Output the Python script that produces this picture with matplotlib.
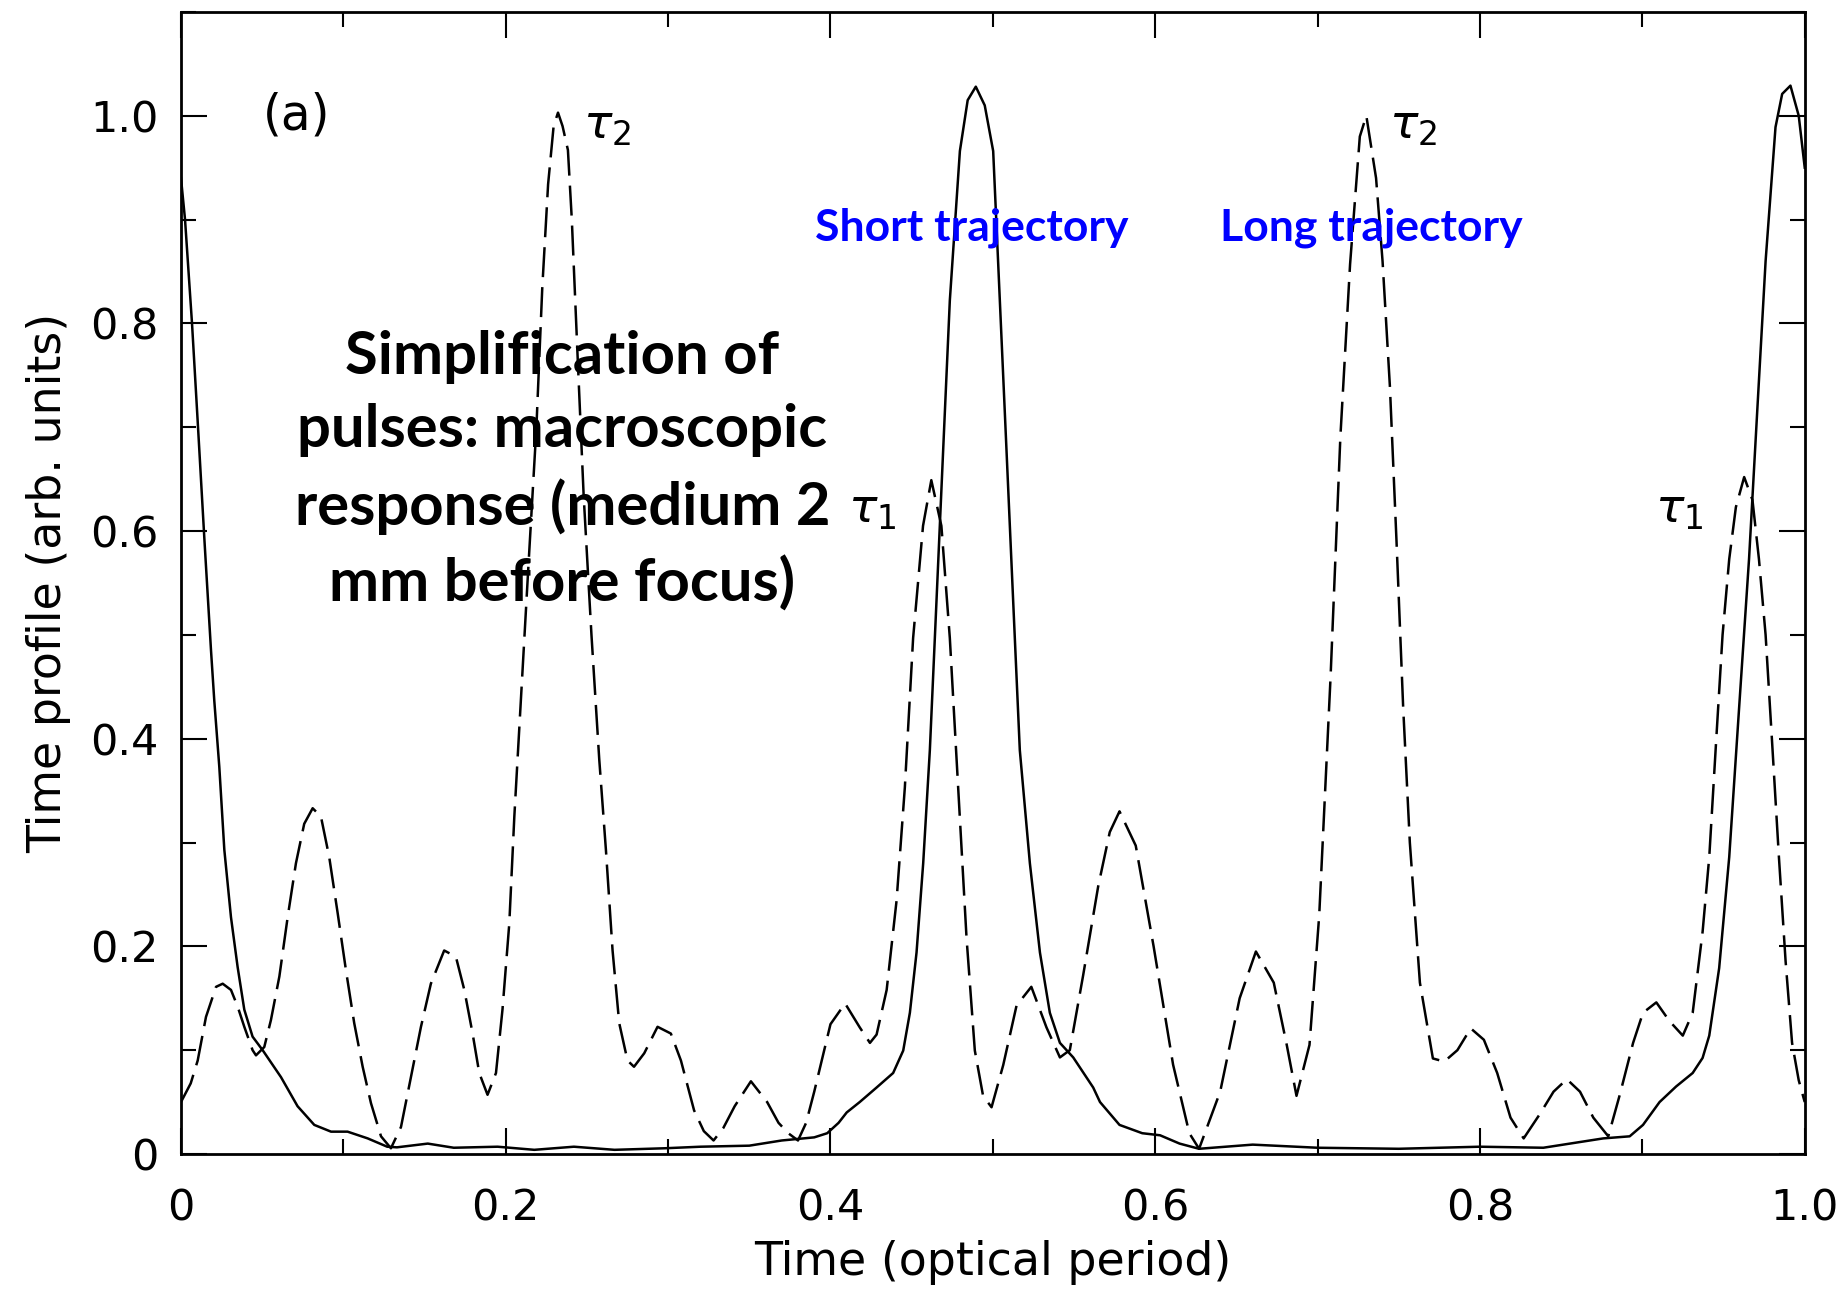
import numpy as np
import matplotlib
matplotlib.use("Agg")
import matplotlib.pyplot as plt
from matplotlib.ticker import MultipleLocator

# Solid curve
time_solid = [0.0, 0.0025, 0.0068, 0.0105, 0.0145, 0.0185, 0.0205, 0.0236, 0.0267, 0.0308,
              0.0349, 0.039, 0.0441, 0.0503, 0.0616, 0.0718, 0.0821, 0.0924, 0.1026, 0.115,
              0.127, 0.133, 0.152, 0.168, 0.195, 0.2176, 0.242, 0.267, 0.298, 0.32,
              0.35, 0.37, 0.39, 0.398, 0.405, 0.41, 0.418, 0.4284, 0.4386, 0.4448,
              0.4489, 0.453, 0.4571, 0.4612, 0.4653, 0.4694, 0.4735, 0.4797, 0.4845, 0.4895,
              0.495, 0.5002, 0.5043, 0.5084, 0.5125, 0.5166, 0.5228, 0.529, 0.5351, 0.5413,
              0.5495, 0.5618, 0.566, 0.578, 0.592, 0.603, 0.615, 0.627, 0.66, 0.70,
              0.75, 0.80, 0.839, 0.8759, 0.8922, 0.9004, 0.9106, 0.9208, 0.931, 0.9371,
              0.9412, 0.9473, 0.9535, 0.9596, 0.9657, 0.9708, 0.9759, 0.982, 0.9861, 0.9912,
              0.9963, 1.0]
profile_solid = [0.94, 0.90, 0.80, 0.70, 0.59, 0.485, 0.437, 0.373, 0.293, 0.228,
                 0.18, 0.139, 0.113, 0.10, 0.074, 0.046, 0.028, 0.0215, 0.0215, 0.015,
                 0.007, 0.0064, 0.010, 0.006, 0.007, 0.004, 0.007, 0.004, 0.0055, 0.007,
                 0.008, 0.013, 0.016, 0.02, 0.03, 0.04, 0.05, 0.064, 0.078, 0.0996,
                 0.136, 0.194, 0.28, 0.389, 0.533, 0.678, 0.822, 0.966, 1.015, 1.028,
                 1.01, 0.966, 0.822, 0.678, 0.533, 0.389, 0.28, 0.194, 0.136, 0.107,
                 0.093, 0.064, 0.05, 0.028, 0.02, 0.018, 0.01, 0.005, 0.009, 0.006,
                 0.005, 0.007, 0.006, 0.015, 0.017, 0.028, 0.05, 0.065, 0.078, 0.0925,
                 0.114, 0.179, 0.286, 0.43, 0.573, 0.717, 0.86, 0.989, 1.021, 1.029,
                 1.0, 0.95]

# Dashed curve
time_dashed = [0.0, 0.006, 0.0103, 0.0154, 0.0216, 0.0257, 0.0308, 0.0349, 0.039, 0.0441,
               0.0462, 0.0513, 0.0554, 0.0606, 0.0657, 0.0708, 0.0759, 0.0811, 0.0862, 0.0913,
               0.0965, 0.1016, 0.1067, 0.1119, 0.117, 0.1232, 0.1293, 0.1355, 0.1416, 0.1478,
               0.1539, 0.1621, 0.1693, 0.1745, 0.1796, 0.1837, 0.1888, 0.194, 0.198, 0.2022,
               0.2053, 0.2092, 0.214, 0.2189, 0.2225, 0.2261, 0.2295, 0.2322, 0.235, 0.2383,
               0.2407, 0.2443, 0.248, 0.2528, 0.2576, 0.2617, 0.2658, 0.2699, 0.275, 0.279,
               0.2853, 0.2935, 0.3017, 0.3079, 0.316, 0.322, 0.328, 0.334, 0.341, 0.351,
               0.361, 0.368, 0.374, 0.380, 0.385, 0.390, 0.400, 0.409, 0.418, 0.4243,
               0.4284, 0.4346, 0.4407, 0.4458, 0.4509, 0.457, 0.4621, 0.4683, 0.4735, 0.4786,
               0.4838, 0.4889, 0.494, 0.4992, 0.5064, 0.5146, 0.5237, 0.533, 0.5413, 0.5474,
               0.5556, 0.5649, 0.572, 0.578, 0.588, 0.599, 0.611, 0.621, 0.627, 0.640,
               0.652, 0.662, 0.673, 0.681, 0.687, 0.695, 0.701, 0.708, 0.714, 0.720,
               0.726, 0.730, 0.736, 0.740, 0.7445, 0.7486, 0.7527, 0.7568, 0.763, 0.771,
               0.778, 0.7861, 0.7943, 0.8024, 0.8106, 0.8188, 0.8269, 0.8371, 0.8453, 0.8535,
               0.8616, 0.8698, 0.879, 0.8861, 0.8943, 0.9004, 0.9086, 0.9167, 0.9249, 0.931,
               0.9371, 0.9412, 0.9453, 0.9494, 0.9535, 0.9576, 0.9627, 0.9678, 0.9718, 0.9759,
               0.98, 0.9841, 0.9882, 0.9922, 0.9963, 1.0]
profile_dashed = [0.05, 0.068, 0.09, 0.132, 0.161, 0.164, 0.158, 0.142, 0.1225, 0.10,
                  0.095, 0.103, 0.129, 0.171, 0.228, 0.28, 0.318, 0.333, 0.325, 0.286,
                  0.232, 0.177, 0.126, 0.084, 0.049, 0.017, 0.0055, 0.026, 0.074, 0.1225,
                  0.164, 0.196, 0.19, 0.158, 0.116, 0.078, 0.057, 0.078, 0.139, 0.222,
                  0.325, 0.434, 0.567, 0.70, 0.834, 0.934, 0.99, 1.003, 0.99, 0.967,
                  0.90, 0.767, 0.634, 0.50, 0.38, 0.293, 0.196, 0.126, 0.09, 0.084,
                  0.097, 0.1225, 0.116, 0.09, 0.042, 0.022, 0.013, 0.025, 0.046, 0.07,
                  0.05, 0.03, 0.02, 0.013, 0.03, 0.06, 0.125, 0.145, 0.122, 0.107,
                  0.115, 0.158, 0.244, 0.353, 0.497, 0.605, 0.649, 0.605, 0.497, 0.353,
                  0.208, 0.0996, 0.0558, 0.045, 0.0857, 0.143, 0.161, 0.122, 0.093, 0.1,
                  0.172, 0.258, 0.31, 0.33, 0.297, 0.2, 0.086, 0.02, 0.005, 0.06,
                  0.15, 0.195, 0.165, 0.105, 0.056, 0.105, 0.23, 0.46, 0.69, 0.857,
                  0.98, 1.0, 0.94, 0.86, 0.74, 0.59, 0.43, 0.30, 0.165, 0.092,
                  0.089, 0.1, 0.121, 0.11, 0.078, 0.035, 0.015, 0.039, 0.06, 0.072,
                  0.06, 0.035, 0.017, 0.057, 0.107, 0.136, 0.146, 0.128, 0.114, 0.136,
                  0.214, 0.286, 0.394, 0.50, 0.573, 0.623, 0.652, 0.63, 0.573, 0.50,
                  0.394, 0.286, 0.186, 0.107, 0.071, 0.05]

x_ticks = [0, 0.2, 0.4, 0.6, 0.8, 1.0]
x_ticklabels = ["0", "0.2", "0.4", "0.6", "0.8", "1.0"]
y_ticks = [0, 0.2, 0.4, 0.6, 0.8, 1.0]
y_ticklabels = ["0", "0.2", "0.4", "0.6", "0.8", "1.0"]

fig = plt.figure(figsize=(18.41, 12.95), dpi=100)
ax = fig.add_axes([0.0983, 0.1089, 0.882, 0.8819])

ax.plot(time_solid, profile_solid, color="black", lw=1.8, solid_joinstyle="round")
ax.plot(time_dashed, profile_dashed, color="black", lw=1.8, dashes=[12, 4])

ax.set_xlim(0, 1.0)
ax.set_ylim(0, 1.1)

ax.set_xticks(x_ticks)
ax.set_xticklabels(x_ticklabels)
ax.set_yticks(y_ticks)
ax.set_yticklabels(y_ticklabels)
ax.xaxis.set_minor_locator(MultipleLocator(0.1))
ax.yaxis.set_minor_locator(MultipleLocator(0.1))
ax.tick_params(which="both", direction="in", top=True, right=True, width=1.5)
ax.tick_params(which="major", length=19, labelsize=31)
ax.tick_params(which="minor", length=11)
ax.tick_params(axis="x", which="major", pad=24)
ax.tick_params(axis="y", which="major", pad=16)
for sp in ax.spines.values():
    sp.set_linewidth(2)

ax.set_xlabel("Time (optical period)", fontsize=33)
ax.xaxis.set_label_coords(0.5, -0.075)
ax.set_ylabel("Time profile (arb. units)", fontsize=33, labelpad=14)

# annotations
ax.text(0.071, 1.0, "(a)", fontsize=35, ha="center", va="center")
ax.text(0.2475, 0.99, r"$\tau_2$", fontsize=34, ha="left", va="center")
ax.text(0.744, 0.99, r"$\tau_2$", fontsize=34, ha="left", va="center")
ax.text(0.411, 0.62, r"$\tau_1$", fontsize=34, ha="left", va="center")
ax.text(0.908, 0.62, r"$\tau_1$", fontsize=34, ha="left", va="center")

ax.text(0.487, 0.892, "Short trajectory", color="blue", fontsize=32,
        fontfamily="Lato", fontweight="bold", ha="center", va="center")
ax.text(0.733, 0.892, "Long trajectory", color="blue", fontsize=32,
        fontfamily="Lato", fontweight="bold", ha="center", va="center")

ax.text(0.235, 0.658,
        "Simplification of\npulses: macroscopic\nresponse (medium 2\nmm before focus)",
        fontsize=43, fontfamily="Lato", fontweight="bold", ha="center", va="center",
        multialignment="center", linespacing=1.45)

fig.savefig("out.png", dpi=100)
